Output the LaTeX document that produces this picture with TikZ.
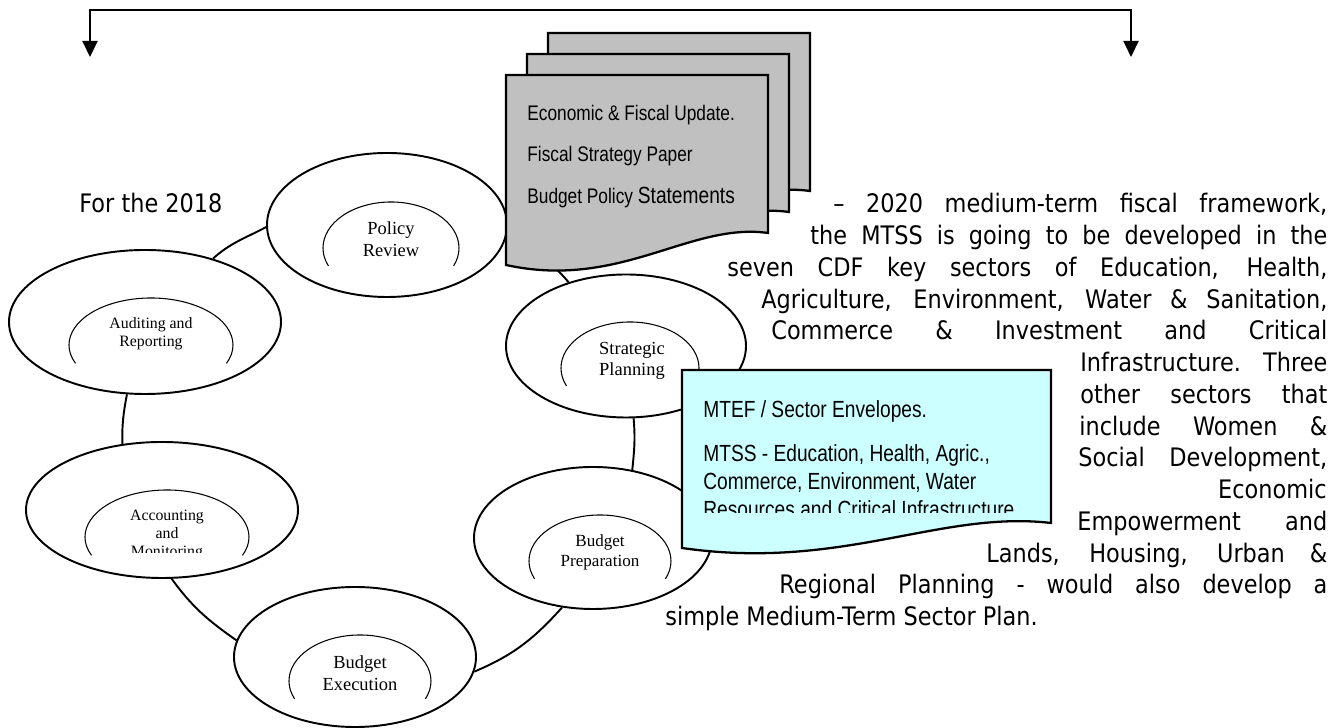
\documentclass[tikz,border=0pt]{standalone}
\usepackage{fontspec}
\setmainfont{DejaVu Sans}[FakeStretch=0.88]
\newfontfamily\sempit{Liberation Sans}[FakeStretch=0.82]
\newfontfamily\hurufserif{Liberation Serif}
\usepackage{xcolor}
\usetikzlibrary{arrows.meta, shapes.geometric}

\definecolor{abuLembar}{RGB}{192,192,192}
\definecolor{biruMuda}{RGB}{204,255,255}

\begin{document}
\begin{tikzpicture}[
    font=\fontsize{14.5}{17.4}\selectfont,
    siklus/.style={draw, ellipse, fill=white, line width=1.1pt, inner sep=0pt},
    busur/.style={line width=0.6pt},
    judul/.style={align=center, inner sep=0pt,
                  font=\hurufserif\fontsize{10.5}{12.3}\selectfont},
    sambung/.style={line width=1.1pt},
    lembar/.style={draw, line width=1.3pt, fill=abuLembar},
    isi/.style={anchor=base west, inner sep=0pt, font=\sempit\fontsize{12}{14}\selectfont},
    baris/.style={anchor=base west, inner sep=0pt},
    panah/.style={{Triangle[width=0.3cm,length=0.32cm]}-{Triangle[width=0.3cm,length=0.32cm]},
                  line width=1.2pt}
  ]
    \useasboundingbox (0,0) rectangle (26.76,14.56);

    \coordinate (ujungKiri) at (1.80,13.42);
    \coordinate (sudutKanan) at (22.62,14.36);
    \coordinate (ujungKanan) at (22.62,13.42);
    \draw[panah] (ujungKiri) |- (sudutKanan) -- (ujungKanan);

    \node[baris] (p1a) at (1.58,10.30) {For the 2018};

    \node[siklus, minimum width=5.44cm, minimum height=2.88cm] (aud) at (2.90,8.12) {};
    \node[siklus, minimum width=4.80cm, minimum height=2.88cm] (pol) at (7.74,10.06) {};
    \node[siklus, minimum width=4.80cm, minimum height=2.86cm] (str) at (12.52,7.64) {};
    \node[siklus, minimum width=4.76cm, minimum height=2.84cm] (prep) at (11.86,3.80) {};
    \node[siklus, minimum width=4.84cm, minimum height=2.80cm] (exe) at (7.10,1.42) {};
    \node[siklus, minimum width=5.44cm, minimum height=2.72cm] (akun) at (3.24,4.36) {};

    \draw[sambung] (aud.43) to[out=42, in=208] (pol.181);
    \draw[sambung] (pol.-5) to[out=-32, in=130] (str.132);
    \draw[sambung] (str.276) to[out=-85, in=84] (prep.60);
    \draw[sambung] (prep.246) to[out=228, in=23] (exe.-7);
    \draw[sambung] (exe.172) to[out=145, in=306] (akun.278);
    \draw[sambung] (akun.121) to[out=91, in=259] (aud.256);

    \draw[busur] ([shift={(0.12,-0.46)}]aud.center) ++(203:1.64cm and 0.94cm)
        arc[start angle=203, end angle=-23, x radius=1.64cm, y radius=0.94cm];
    \draw[busur] ([shift={(0.08,-0.46)}]pol.center) ++(203:1.36cm and 0.92cm)
        arc[start angle=203, end angle=-23, x radius=1.36cm, y radius=0.92cm];
    \draw[busur] ([shift={(0.08,-0.44)}]str.center) ++(203:1.38cm and 0.92cm)
        arc[start angle=203, end angle=-23, x radius=1.38cm, y radius=0.92cm];
    \draw[busur] ([shift={(0.14,-0.46)}]prep.center) ++(203:1.42cm and 0.92cm)
        arc[start angle=203, end angle=-23, x radius=1.42cm, y radius=0.92cm];
    \draw[busur] ([shift={(0.10,-0.48)}]exe.center) ++(203:1.42cm and 0.92cm)
        arc[start angle=203, end angle=-23, x radius=1.42cm, y radius=0.92cm];
    \draw[busur] ([shift={(0.10,-0.54)}]akun.center) ++(203:1.64cm and 0.94cm)
        arc[start angle=203, end angle=-23, x radius=1.64cm, y radius=0.94cm];

    \node[judul, font=\hurufserif\fontsize{9}{10.2}\selectfont] (tAud) at (3.02,7.88) {Auditing and\\Reporting};
    \node[judul] (tPol) at (7.82,9.78) {Policy\\Review};
    \node[judul] (tStr) at (12.64,7.34) {Strategic\\Planning};
    \node[judul, font=\hurufserif\fontsize{9.7}{11.4}\selectfont] (tPrep) at (12.00,3.52) {Budget\\Preparation};
    \node[judul] (tExe) at (7.20,1.10) {Budget\\Execution};
    \begin{scope}
      \clip (1.5,3.50) rectangle (5.2,4.80);
      \node[judul, font=\hurufserif\fontsize{9}{10.2}\selectfont] (tAkun) at (3.34,3.86) {Accounting\\and\\Monitoring};
    \end{scope}

    \draw[lembar, shift={(0.84,0.84)}] (10.12,13.06) -- (15.36,13.06) -- (15.36,9.90)
        .. controls (13.80,10.12) and (12.40,8.76) .. (10.12,9.26) -- cycle;
    \draw[lembar, shift={(0.42,0.42)}] (10.12,13.06) -- (15.36,13.06) -- (15.36,9.90)
        .. controls (13.80,10.12) and (12.40,8.76) .. (10.12,9.26) -- cycle;
    \draw[lembar] (10.12,13.06) -- (15.36,13.06) -- (15.36,9.90)
        .. controls (13.80,10.12) and (12.40,8.76) .. (10.12,9.26) -- cycle;
    \node[isi] (dok1) at (10.54,12.14) {Economic \& Fiscal Update.};
    \node[isi] (dok2) at (10.54,11.32) {Fiscal Strategy Paper};
    \node[isi] (dok3) at (10.54,10.48) {Budget Policy {\fontsize{13.3}{16}\selectfont Statements}};

    \draw[line width=1.3pt, fill=biruMuda] (13.64,7.16) -- (21.02,7.16) -- (21.02,4.10)
        .. controls (18.80,4.36) and (16.84,3.14) .. (13.64,3.60) -- cycle;
    \begin{scope}
      \clip (13.64,4.30) rectangle (21.02,7.16);
      \node[isi, font=\sempit\fontsize{13.3}{16}\selectfont] (mtef) at (14.06,6.20) {MTEF / Sector Envelopes.};
      \node[isi, font=\sempit\fontsize{13.3}{16}\selectfont] (mtss1) at (14.06,5.32) {MTSS - Education, Health, Agric.,};
      \node[isi, font=\sempit\fontsize{13.3}{16}\selectfont] (mtss2) at (14.06,4.76) {Commerce, Environment, Water};
      \node[isi, font=\sempit\fontsize{13.3}{16}\selectfont] (mtss3) at (14.06,4.20) {Resources and Critical Infrastructure};
    \end{scope}

    \node[baris] (p1b) at (16.66,10.30) {\makebox[9.88cm][s]{– 2020 medium-term fiscal framework,}};
    \node[baris] (p2) at (16.20,9.665) {\makebox[10.34cm][s]{the MTSS is going to be developed in the}};
    \node[baris] (p3) at (14.54,9.03) {\makebox[12.00cm][s]{seven CDF key sectors of Education, Health,}};
    \node[baris] (p4) at (15.22,8.395) {\makebox[11.32cm][s]{Agriculture, Environment, Water \& Sanitation,}};
    \node[baris] (p5) at (15.42,7.76) {\makebox[11.12cm][s]{Commerce \& Investment and Critical}};
    \node[baris] (p6) at (21.60,7.125) {\makebox[4.94cm][s]{Infrastructure. Three}};
    \node[baris] (p7) at (21.60,6.49) {\makebox[4.94cm][s]{other sectors that}};
    \node[baris] (p8) at (21.58,5.855) {\makebox[4.96cm][s]{include Women \&}};
    \node[baris] (p9) at (21.56,5.22) {\makebox[4.98cm][s]{Social Development,}};
    \node[baris, anchor=base east] (p10) at (26.54,4.585) {Economic};
    \node[baris] (p11) at (21.54,3.95) {\makebox[5.00cm][s]{Empowerment and}};
    \node[baris] (p12) at (19.72,3.315) {\makebox[6.82cm][s]{Lands, Housing, Urban \&}};
    \node[baris] (p13) at (15.58,2.68) {\makebox[10.96cm][s]{Regional Planning - would also develop a}};
    \node[baris] (p14) at (13.30,2.045) {simple Medium-Term Sector Plan.};
  \end{tikzpicture}
\end{document}
